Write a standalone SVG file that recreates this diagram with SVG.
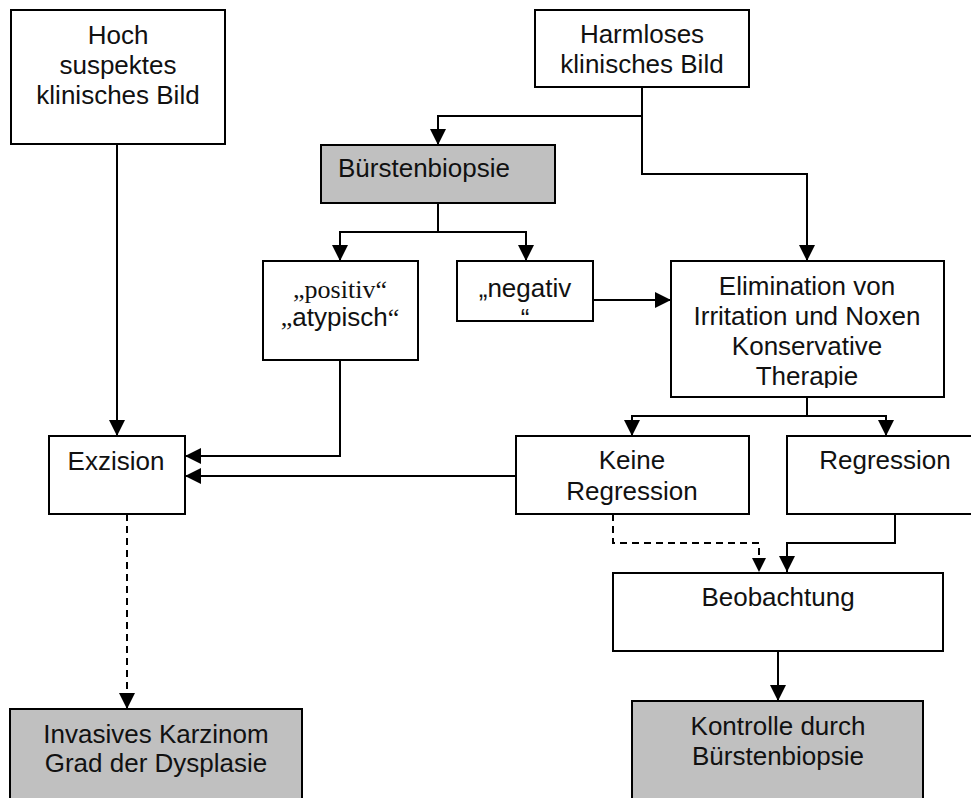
<svg xmlns="http://www.w3.org/2000/svg" width="971" height="798" viewBox="0 0 971 798">
<style>
.box{fill:#fff;stroke:#000;stroke-width:2}
.grey{fill:#c0c0c0;stroke:#000;stroke-width:2}
.t{font-family:"Liberation Sans",Arial,sans-serif;font-size:26px;fill:#111;text-anchor:middle}
.s{font-family:"Liberation Serif","Times New Roman",serif}
.c{fill:none;stroke:#000;stroke-width:2}
.d{stroke-dasharray:7 5}
</style>
<defs>
<marker id="ah" markerUnits="userSpaceOnUse" markerWidth="16" markerHeight="16" refX="16" refY="8" orient="auto">
<path d="M0,0 L16,8 L0,16 Z" fill="#000"/>
</marker>
<marker id="ahs" markerUnits="userSpaceOnUse" markerWidth="14" markerHeight="14" refX="14" refY="7" orient="auto">
<path d="M0,0 L14,7 L0,14 Z" fill="#000"/>
</marker>
<clipPath id="clipElim"><rect x="671" y="261" width="273" height="127"/></clipPath>
</defs>

<g id="connectors">
<path class="c" d="M117,144 V436" marker-end="url(#ah)"/>
<path class="c" d="M642,87 V116 H438 V145" marker-end="url(#ah)"/>
<path class="c" d="M642,116 V174 H807 V261" marker-end="url(#ah)"/>
<path class="c" d="M438,203 V232 H340 V261" marker-end="url(#ah)"/>
<path class="c" d="M438,232 H526 V261" marker-end="url(#ah)"/>
<path class="c" d="M593,300 H671" marker-end="url(#ah)"/>
<path class="c" d="M340,360 V456 H185" marker-end="url(#ah)"/>
<path class="c" d="M516,476 H185" marker-end="url(#ah)"/>
<path class="c" d="M807,397 V416 H632 V436" marker-end="url(#ah)"/>
<path class="c" d="M807,416 H886 V436" marker-end="url(#ah)"/>
<path class="c d" d="M127,514 V709" marker-end="url(#ah)"/>
<path class="c d" d="M613,514 V543 H759 V572" marker-end="url(#ahs)"/>
<path class="c" d="M895,514 V543 H787 V572" marker-end="url(#ah)"/>
<path class="c" d="M778,651 V701" marker-end="url(#ah)"/>
</g>

<g id="hoch">
<rect class="box" x="11" y="10" width="214" height="134"/>
<text class="t" x="118" y="44">Hoch</text>
<text class="t" x="118" y="74">suspektes</text>
<text class="t" x="118" y="104">klinisches Bild</text>
</g>

<g id="harmlos">
<rect class="box" x="535" y="10" width="214" height="77"/>
<text class="t" x="642" y="43">Harmloses</text>
<text class="t" x="642" y="73">klinisches Bild</text>
</g>

<g id="buersten">
<rect class="grey" x="321" y="145" width="234" height="58"/>
<text class="t" x="338" y="177" style="text-anchor:start">Bürstenbiopsie</text>
</g>

<g id="positiv">
<rect class="box" x="263" y="261" width="155" height="99"/>
<text class="t s" x="340" y="298">„positiv“</text>
<text class="t" x="340" y="326"><tspan class="s">„</tspan>atypisch<tspan class="s">“</tspan></text>
</g>

<g id="negativ">
<rect class="box" x="457" y="261" width="136" height="60"/>
<text class="t" x="525" y="297">„negativ</text>
<text class="t" x="525" y="327">“</text>
</g>

<g id="elimination">
<rect class="box" x="671" y="261" width="273" height="136"/>
<g clip-path="url(#clipElim)">
<text class="t" x="807" y="295">Elimination von</text>
<text class="t" x="807" y="325">Irritation und Noxen</text>
<text class="t" x="807" y="355">Konservative</text>
<text class="t" x="807" y="385">Therapie</text>
</g>
</g>

<g id="exzision">
<rect class="box" x="49" y="436" width="136" height="78"/>
<text class="t" x="116" y="470">Exzision</text>
</g>

<g id="keine">
<rect class="box" x="516" y="436" width="233" height="78"/>
<text class="t" x="632" y="469">Keine</text>
<text class="t" x="632" y="500">Regression</text>
</g>

<g id="regression">
<rect class="box" x="787" y="436" width="200" height="78"/>
<text class="t" x="885" y="469">Regression</text>
</g>

<g id="beobachtung">
<rect class="box" x="613" y="573" width="330" height="78"/>
<text class="t" x="778" y="606">Beobachtung</text>
</g>

<g id="invasiv">
<rect class="grey" x="10" y="709" width="292" height="100"/>
<text class="t" x="156" y="743">Invasives Karzinom</text>
<text class="t" x="156" y="772">Grad der Dysplasie</text>
</g>

<g id="kontrolle">
<rect class="grey" x="632" y="701" width="291" height="110"/>
<text class="t" x="778" y="735">Kontrolle durch</text>
<text class="t" x="778" y="765">Bürstenbiopsie</text>
</g>
</svg>
